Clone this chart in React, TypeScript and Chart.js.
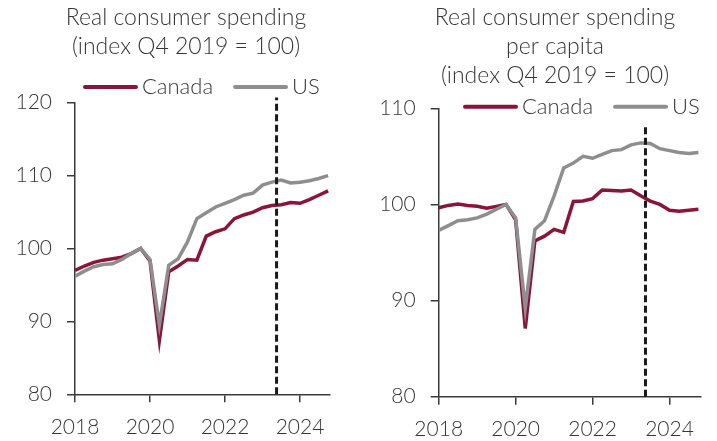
import React, { useEffect, useRef } from "react";
import { Chart, registerables } from "chart.js";

Chart.register(...registerables);

// ---- Data ----
const quarterLabels = [
  "2018 Q1", "2018 Q2", "2018 Q3", "2018 Q4",
  "2019 Q1", "2019 Q2", "2019 Q3", "2019 Q4",
  "2020 Q1", "2020 Q2", "2020 Q3", "2020 Q4",
  "2021 Q1", "2021 Q2", "2021 Q3", "2021 Q4",
  "2022 Q1", "2022 Q2", "2022 Q3", "2022 Q4",
  "2023 Q1", "2023 Q2", "2023 Q3", "2023 Q4",
  "2024 Q1", "2024 Q2", "2024 Q3", "2024 Q4",
];

const canadaSpending = [
  97.0, 97.6, 98.1, 98.4, 98.6, 98.8, 99.3, 100.0,
  98.3, 87.4, 96.8, 97.6, 98.5, 98.4, 101.7, 102.3,
  102.7, 104.1, 104.6, 105.0, 105.6, 105.9, 106.0, 106.3,
  106.2, 106.7, 107.3, 107.9,
];
const usSpending = [
  96.2, 96.9, 97.5, 97.8, 97.9, 98.5, 99.3, 100.0,
  98.5, 89.5, 97.7, 98.6, 100.9, 104.1, 104.9, 105.7,
  106.2, 106.7, 107.3, 107.6, 108.7, 109.1, 109.4, 109.0,
  109.1, 109.3, 109.6, 110.0,
];

const canadaPerCapita = [
  99.65, 99.9, 100.05, 99.9, 99.8, 99.6, 99.8, 100.0,
  98.4, 87.1, 96.2, 96.7, 97.4, 97.1, 100.3, 100.35,
  100.6, 101.5, 101.45, 101.4, 101.5, 100.9, 100.35, 100.0,
  99.4, 99.3, 99.4, 99.5,
];
const usPerCapita = [
  97.3, 97.8, 98.3, 98.4, 98.6, 99.0, 99.5, 100.0,
  98.6, 89.2, 97.4, 98.3, 100.9, 103.8, 104.3, 105.0,
  104.8, 105.2, 105.6, 105.7, 106.2, 106.4, 106.35, 105.8,
  105.6, 105.4, 105.3, 105.4,
];

const xTickYears = [2018, 2020, 2022, 2024];
const xAxisMin = 2018;
const xAxisMax = 2024.8;
const markerYear = 2023.375;
const markerLeft = [80, 120.7];
const markerRight = [80, 108.4];
const leftYTicks = { min: 80, max: 120, step: 10 };
const rightYTicks = { min: 80, max: 110, step: 10 };
const leftTitle = ["Real consumer spending", "(index Q4 2019 = 100)"];
const rightTitle = ["Real consumer spending", "per capita", "(index Q4 2019 = 100)"];
const seriesNames = ["Canada", "US"];

// ---- Styles ----
const RED = "#8a1538";
const GRAY = "#8e8e8e";
const TEXT = "#363636";
const AXIS = "#3a3a3a";
const FONT = "Lato";

function quarterToYear(label: string): number {
  const [y, q] = label.split(" Q");
  return Number(y) + (Number(q) - 1) / 4;
}

type PanelProps = {
  titleLines: string[];
  canada: number[];
  us: number[];
  marker: number[];
  yRange: { min: number; max: number; step: number };
  width: number;
  height: number;
  left: number;
  layout: {
    yAxisWidth: number;
    top: number;
    right: number;
    xAxisHeight: number;
    titleX: number;
    titleY: number;
    legendX: number;
    legendY: number;
  };
};

const overlayPlugin = {
  id: "overlayText",
  afterDraw(chart: any, _args: any, opts: any) {
    const ctx = chart.ctx;
    ctx.save();
    ctx.fillStyle = TEXT;
    ctx.font = `300 23px ${FONT}`;
    ctx.textAlign = "center";
    ctx.textBaseline = "middle";
    (opts.titleLines || []).forEach((line: string, i: number) => {
      ctx.fillText(line, opts.titleX, opts.titleY + i * 29);
    });
    // legend
    ctx.font = `300 22px ${FONT}`;
    let x = opts.legendX;
    const y = opts.legendY;
    ctx.textAlign = "left";
    chart.data.datasets.forEach((ds: any) => {
      if (!ds.inLegend) return;
      ctx.strokeStyle = ds.borderColor;
      ctx.lineWidth = 4;
      ctx.lineCap = "round";
      ctx.beginPath();
      ctx.moveTo(x + 2, y);
      ctx.lineTo(x + 53, y);
      ctx.stroke();
      x += 59;
      ctx.fillText(ds.label, x, y);
      x += ctx.measureText(ds.label).width + 20;
    });
    ctx.restore();
  },
};

function Panel(props: PanelProps) {
  const ref = useRef<HTMLCanvasElement | null>(null);
  useEffect(() => {
    if (!ref.current) return;
    const xs = quarterLabels.map(quarterToYear);
    const L = props.layout;
    const chart = new Chart(ref.current, {
      type: "line",
      data: {
        datasets: [
          {
            label: "marker",
            data: props.marker.map((v) => ({ x: markerYear, y: v })),
            borderColor: "#1a1a1a",
            borderWidth: 3,
            borderDash: [7, 3.5],
            pointRadius: 0,
            order: 0,
            clip: false as any,
          } as any,
          {
            label: seriesNames[0],
            data: props.canada.map((v, i) => ({ x: xs[i], y: v })),
            borderColor: RED,
            backgroundColor: RED,
            borderWidth: 3.5,
            pointRadius: 0,
            tension: 0,
            order: 2,
            inLegend: true,
          } as any,
          {
            label: seriesNames[1],
            data: props.us.map((v, i) => ({ x: xs[i], y: v })),
            borderColor: GRAY,
            backgroundColor: GRAY,
            borderWidth: 3.5,
            pointRadius: 0,
            tension: 0,
            order: 1,
            inLegend: true,
          } as any,
        ],
      },
      options: {
        animation: false,
        responsive: false,
        maintainAspectRatio: false,
        layout: { padding: { top: L.top, right: L.right, bottom: 0, left: 0 } },
        plugins: {
          legend: { display: false },
          title: { display: false },
          tooltip: { enabled: false },
          overlayText: {
            titleLines: props.titleLines,
            titleX: L.titleX,
            titleY: L.titleY,
            legendX: L.legendX,
            legendY: L.legendY,
          },
        } as any,
        scales: {
          x: {
            type: "linear",
            min: xAxisMin,
            max: xAxisMax,
            afterBuildTicks: (axis: any) => {
              axis.ticks = xTickYears.map((v) => ({ value: v }));
            },
            afterFit: (scale: any) => {
              scale.height = L.xAxisHeight;
            },
            grid: {
              drawOnChartArea: false,
              drawTicks: true,
              tickLength: 8,
              color: AXIS,
              lineWidth: 1.5,
            },
            border: { display: true, color: AXIS, width: 1.5 },
            ticks: {
              autoSkip: false,
              maxRotation: 0,
              padding: 12,
              color: TEXT,
              font: { family: FONT, size: 21, weight: "300" as any },
              callback: (v: any) => String(v),
            },
          },
          y: {
            type: "linear",
            min: props.yRange.min,
            max: props.yRange.max,
            afterFit: (scale: any) => {
              scale.width = L.yAxisWidth;
            },
            grid: {
              drawOnChartArea: false,
              drawTicks: true,
              tickLength: 8,
              color: AXIS,
              lineWidth: 1.5,
            },
            border: { display: true, color: AXIS, width: 1.5 },
            ticks: {
              stepSize: props.yRange.step,
              padding: 15,
              color: TEXT,
              font: { family: FONT, size: 21, weight: "300" as any },
            },
          },
        },
      },
      plugins: [overlayPlugin],
    });
    return () => chart.destroy();
  }, []);
  return (
    <div style={{ position: "absolute", left: props.left, top: 0, width: props.width, height: props.height }}>
      <canvas ref={ref} width={props.width} height={props.height} style={{ width: props.width, height: props.height, display: "block" }} />
    </div>
  );
}

export default function App() {
  return (
    <div style={{ position: "absolute", left: 0, top: 0, width: 717, height: 441, background: "#fff" }}>
      <Panel
        titleLines={leftTitle}
        canada={canadaSpending}
        us={usSpending}
        marker={markerLeft}
        yRange={leftYTicks}
        width={358}
        height={441}
        left={0}
        layout={{
          yAxisWidth: 75,
          top: 102.7,
          right: 28,
          xAxisHeight: 46.7,
          titleX: 186,
          titleY: 18,
          legendX: 83,
          legendY: 87,
        }}
      />
      <Panel
        titleLines={rightTitle}
        canada={canadaPerCapita}
        us={usPerCapita}
        marker={markerRight}
        yRange={rightYTicks}
        width={359}
        height={441}
        left={358}
        layout={{
          yAxisWidth: 80.7,
          top: 108.3,
          right: 16.7,
          xAxisHeight: 44.3,
          titleX: 197,
          titleY: 18,
          legendX: 105,
          legendY: 106.7,
        }}
      />
    </div>
  );
}
